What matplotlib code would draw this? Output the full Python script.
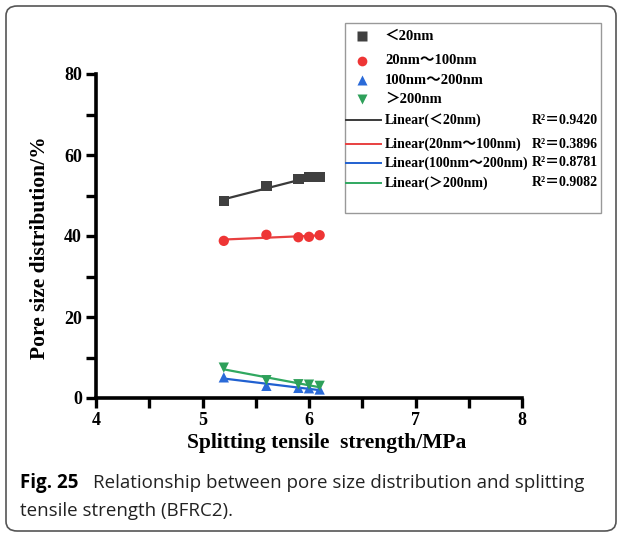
import numpy as np
import matplotlib.pyplot as plt
from matplotlib.lines import Line2D
from matplotlib.patches import FancyBboxPatch, Rectangle
from matplotlib.ticker import MultipleLocator

# splitting tensile strength (MPa) and pore fractions (%) per pore range
strength = [5.2, 5.6, 5.9, 6.0, 6.1]
pore_lt20 = [48.7, 52.3, 54.1, 54.5, 54.6]
pore_20_100 = [38.8, 40.3, 39.7, 39.8, 40.2]
pore_100_200 = [5.1, 3.0, 2.5, 2.4, 2.1]
pore_gt200 = [7.5, 4.4, 3.4, 3.3, 3.0]

labels = ['＜20nm', '20nm～100nm', '100nm～200nm', '＞200nm']
r2_labels = ['0.9420', '0.3896', '0.8781', '0.9082']
markers = ['s', 'o', '^', 'v']
marker_colors = ['#404040', '#ee3535', '#2a6ad8', '#2ea05a']
line_colors = ['#3a3a3a', '#e84040', '#2060d0', '#30a860']

serif = ['Liberation Serif', 'Noto Sans CJK SC', 'DejaVu Sans']

W, H = 624, 535
fig = plt.figure(figsize=(W / 100, H / 100), dpi=100)


def px(x, y):
    return x / W, 1 - y / H


# card border
fig.patches.append(FancyBboxPatch(px(6, 531), (616 - 6) / W, (531 - 6) / H,
                                  boxstyle='round,pad=0,rounding_size=0.018',
                                  transform=fig.transFigure, fill=False,
                                  edgecolor='#555555', linewidth=1.2))

ax = fig.add_axes([96 / W, 1 - 398 / H, (522 - 96) / W, (398 - 74) / H])
series = [pore_lt20, pore_20_100, pore_100_200, pore_gt200]
xs = np.array(strength)
for vals, m, mc, lc in zip(series, markers, marker_colors, line_colors):
    k, b = np.polyfit(xs, vals, 1)
    fit_x = np.array([xs.min(), xs.max()])
    ax.plot(fit_x, k * fit_x + b, color=lc, lw=1.6, zorder=2)
    ax.scatter(xs, vals, marker=m, color=mc, s=55, zorder=3, edgecolors='none')

ax.set_xlim(4, 8)
ax.set_ylim(0, 80)
ax.xaxis.set_major_locator(MultipleLocator(1))
ax.xaxis.set_minor_locator(MultipleLocator(0.5))
ax.yaxis.set_major_locator(MultipleLocator(20))
ax.yaxis.set_minor_locator(MultipleLocator(10))
for s in ['top', 'right']:
    ax.spines[s].set_visible(False)
for s in ['left', 'bottom']:
    ax.spines[s].set_linewidth(2.6)
ax.tick_params(which='both', direction='out', width=2.4, length=7)
ax.tick_params(which='major', labelsize=13, pad=3)
for t in ax.get_xticklabels() + ax.get_yticklabels():
    t.set_fontfamily(serif)
    t.set_fontweight('bold')
ax.set_xlabel('Splitting tensile  strength/MPa', fontsize=15.5, fontweight='bold',
              family=serif)
ax.set_ylabel('Pore size distribution/%', fontsize=15.5, fontweight='bold',
              family=serif)
ax.xaxis.set_label_coords(0.542, -0.108)
ax.yaxis.set_label_coords(-0.108, 0.463)

# legend box
fig.patches.append(Rectangle(px(345, 213), (601 - 345) / W, (213 - 23) / H,
                             transform=fig.transFigure, fill=False,
                             edgecolor='#999999', linewidth=1.0))
marker_rows = [36, 61, 80, 99]
line_rows = [120, 144, 163, 183]
for y, lab, m, mc in zip(marker_rows, labels, markers, marker_colors):
    fig.add_artist(Line2D([362 / W], [1 - y / H], marker=m, color=mc, ms=7,
                          mec='none', transform=fig.transFigure))
    fig.text(*px(385, y), lab, fontsize=10.5, fontweight='bold', family=serif,
             va='center')
for y, lab, r2, lc in zip(line_rows, labels, r2_labels, line_colors):
    fig.add_artist(Line2D([346 / W, 381 / W], [1 - y / H] * 2, color=lc, lw=1.4,
                          transform=fig.transFigure))
    fig.text(*px(385, y), 'Linear(' + lab + ')', fontsize=10, fontweight='bold',
             family=serif, va='center')
    fig.text(*px(598, y), 'R²＝' + r2, fontsize=10, fontweight='bold',
             family=serif, va='center', ha='right')

# caption
cap = ['Open Sans', 'DejaVu Sans']
fig.text(*px(20, 483), 'Fig. 25', fontsize=13.5, fontweight='bold', family=cap,
         va='center')
fig.text(*px(93, 483), 'Relationship between pore size distribution and splitting',
         fontsize=13.5, family=cap, va='center', color='#222222')
fig.text(*px(20, 511), 'tensile strength (BFRC2).', fontsize=13.5, family=cap,
         va='center', color='#222222')

fig.savefig('out.png', dpi=100)
